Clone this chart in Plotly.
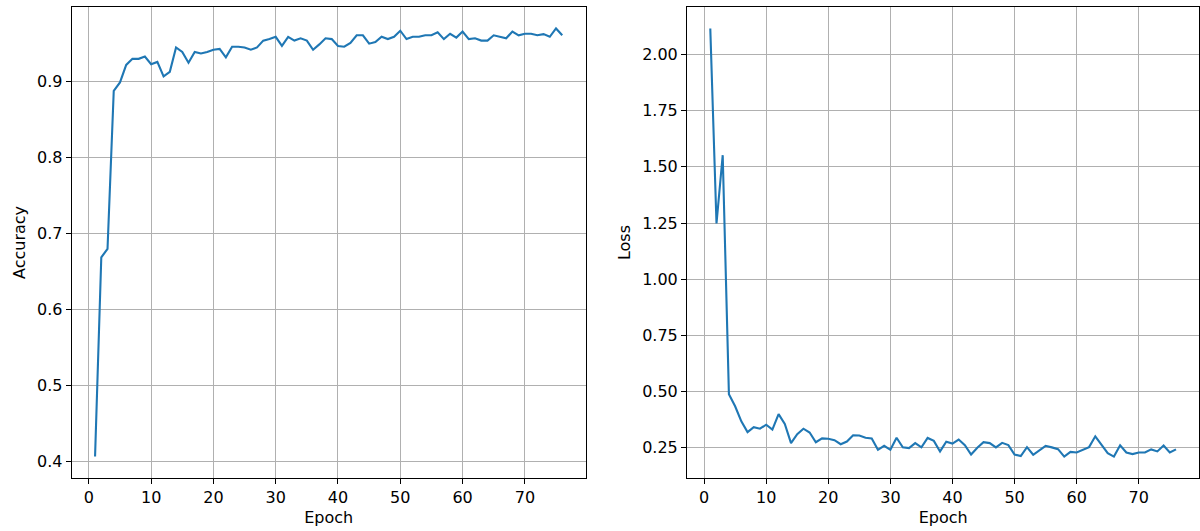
import plotly.graph_objects as go

epochs = list(range(1, 77))

accuracy = [
    0.407, 0.669, 0.680, 0.888, 0.899, 0.922, 0.930, 0.930, 0.933, 0.923,
    0.926, 0.907, 0.913, 0.945, 0.939, 0.925, 0.939, 0.937, 0.939, 0.942,
    0.943, 0.932, 0.946, 0.946, 0.945, 0.942, 0.945, 0.954, 0.956, 0.959,
    0.947, 0.959, 0.954, 0.957, 0.954, 0.942, 0.949, 0.957, 0.956, 0.947,
    0.946, 0.951, 0.961, 0.961, 0.950, 0.952, 0.959, 0.956, 0.959, 0.967,
    0.956, 0.959, 0.959, 0.961, 0.961, 0.965, 0.956, 0.963, 0.958, 0.966,
    0.956, 0.957, 0.954, 0.954, 0.961, 0.959, 0.957, 0.966, 0.961, 0.963,
    0.963, 0.961, 0.9625, 0.959, 0.970, 0.961,
]

loss = [
    2.116, 1.248, 1.552, 0.488, 0.435, 0.368, 0.320, 0.342, 0.335, 0.353,
    0.331, 0.400, 0.356, 0.271, 0.311, 0.335, 0.318, 0.275, 0.292, 0.290,
    0.284, 0.266, 0.278, 0.306, 0.305, 0.295, 0.292, 0.241, 0.259, 0.241,
    0.295, 0.252, 0.249, 0.271, 0.252, 0.294, 0.281, 0.234, 0.277, 0.269,
    0.287, 0.262, 0.220, 0.250, 0.275, 0.271, 0.252, 0.272, 0.262, 0.220,
    0.213, 0.253, 0.219, 0.241, 0.259, 0.252, 0.244, 0.211, 0.232, 0.229,
    0.241, 0.253, 0.301, 0.266, 0.226, 0.211, 0.261, 0.229, 0.222, 0.229,
    0.229, 0.243, 0.234, 0.260, 0.229, 0.243,
]

W, H = 1200, 531
FONT = "DejaVu Sans"
FS = 16
LINE_COLOR = "#1f77b4"

fig = go.Figure()
fig.add_trace(go.Scatter(x=epochs, y=accuracy, mode="lines",
                         line=dict(color=LINE_COLOR, width=2.1),
                         xaxis="x", yaxis="y", showlegend=False))
fig.add_trace(go.Scatter(x=epochs, y=loss, mode="lines",
                         line=dict(color=LINE_COLOR, width=2.1),
                         xaxis="x2", yaxis="y2", showlegend=False))

def xa(domain, anchor):
    return dict(domain=domain, anchor=anchor, range=[-2.75, 79.75],
                tick0=0, dtick=10, showgrid=True, gridcolor="#b0b0b0", gridwidth=1.1,
                zeroline=False, showline=True, mirror=True, linecolor="black", linewidth=1.1,
                ticks="outside", ticklen=5, tickwidth=1.1, tickcolor="black",
                tickfont=dict(family=FONT, size=FS, color="black"),
                title=dict(text="Epoch", font=dict(family=FONT, size=FS, color="black"), standoff=5),
                automargin=False)

def ya(domain, anchor, rng, dtick, fmt, title):
    return dict(domain=domain, anchor=anchor, range=rng,
                tick0=0, dtick=dtick, tickformat=fmt,
                showgrid=True, gridcolor="#b0b0b0", gridwidth=1.1,
                zeroline=False, showline=True, mirror=True, linecolor="black", linewidth=1.1,
                ticks="outside", ticklen=5, tickwidth=1.1, tickcolor="black",
                tickfont=dict(family=FONT, size=FS, color="black"),
                title=dict(text=title, font=dict(family=FONT, size=FS, color="black"), standoff=7),
                automargin=False)

ydom = [1 - 478 / H, 1 - 7 / H]
fig.update_layout(
    width=W, height=H,
    margin=dict(l=0, r=0, t=0, b=0),
    paper_bgcolor="white", plot_bgcolor="white",
    xaxis=xa([71.7 / W, 585.6 / W], "y"),
    yaxis=ya(ydom, "x", [0.3788, 0.9982], 0.1, ".1f", "Accuracy"),
    xaxis2=xa([687.0 / W, 1199.3 / W], "y2"),
    yaxis2=ya(ydom, "x2", [0.1157, 2.2113], 0.25, ".2f", "Loss"),
    font=dict(family=FONT, size=FS, color="black"),
)

fig.write_html("out.html")
